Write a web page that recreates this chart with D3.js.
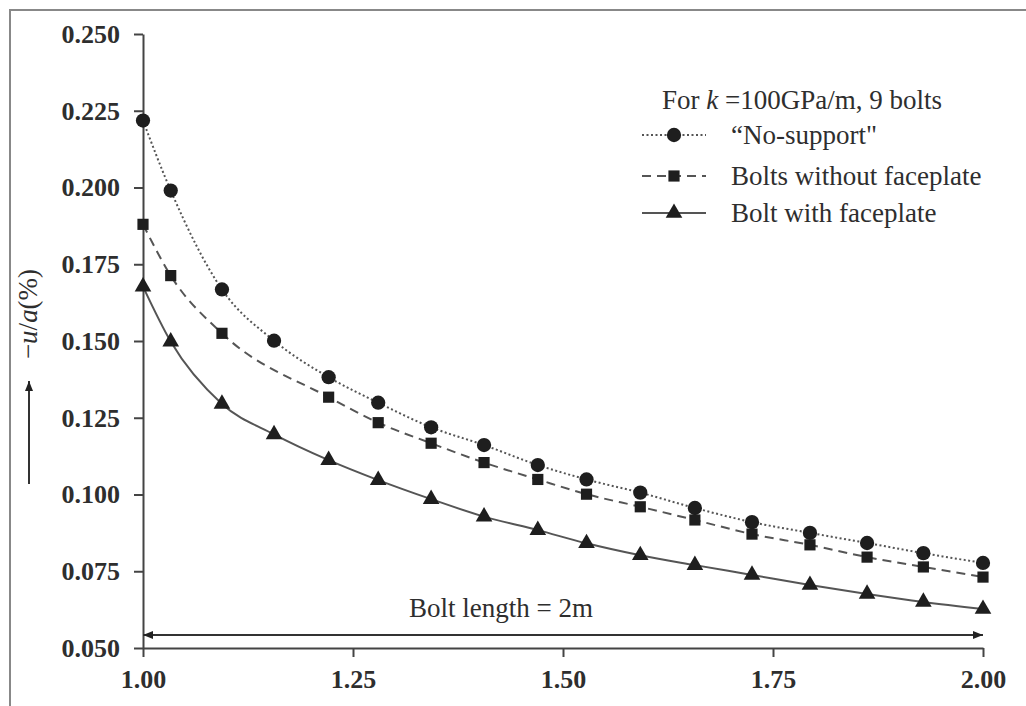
<!DOCTYPE html>
<html>
<head>
<meta charset="utf-8">
<script src="https://cdn.jsdelivr.net/npm/d3@7"></script>
<style>
  body { margin: 0; background: #fff; }
  svg { display: block; }
  text { font-family: "Liberation Serif", "Times New Roman", serif; fill: #2e2e2e; }
</style>
</head>
<body>
<svg id="chart" width="1026" height="706"></svg>
<script>
// bolt length ratio (x) and -u/a (%)
const xVals = [1.000, 1.033, 1.094, 1.156, 1.221, 1.280, 1.343, 1.406, 1.470, 1.528, 1.592, 1.657, 1.725, 1.794, 1.862, 1.929, 2.000];
const noSupport = [0.2218, 0.1990, 0.1668, 0.1501, 0.1382, 0.1299, 0.1219, 0.1161, 0.1096, 0.1049, 0.1006, 0.0956, 0.0910, 0.0875, 0.0842, 0.0809, 0.0777];
const noFaceplate = [0.1880, 0.1713, 0.1525, null, 0.1317, 0.1234, 0.1167, 0.1104, 0.1049, 0.1001, 0.0960, 0.0917, 0.0871, 0.0836, 0.0796, 0.0764, 0.0731];
const withFaceplate = [0.1677, 0.1498, 0.1295, 0.1196, 0.1112, 0.1047, 0.0985, 0.0928, 0.0884, 0.0841, 0.0802, 0.0770, 0.0738, 0.0705, 0.0676, 0.0650, 0.0627];
const xTicks = [1.00, 1.25, 1.50, 1.75, 2.00];
const yTicks = [0.050, 0.075, 0.100, 0.125, 0.150, 0.175, 0.200, 0.225, 0.250];
const legendTitle = "100GPa/m, 9 bolts";
const seriesNames = ["\u201CNo-support\"", "Bolts without faceplate", "Bolt with faceplate"];

const svg = d3.select("#chart");
const margin = { left: 143, right: 43, top: 34, bottom: 58 };
const width = 1026, height = 706;

const xScale = d3.scaleLinear().domain([1, 2]).range([margin.left, width - margin.right]);
const yScale = d3.scaleLinear().domain([0.05, 0.25]).range([height - margin.bottom, margin.top]);

// picture frame (only top and left edges visible)
svg.append("path")
  .attr("d", `M10,${height} L10,10 L${width},10`)
  .attr("fill", "none").attr("stroke", "#888").attr("stroke-width", 2);

// axes
const xAxis = svg.append("g")
  .attr("transform", `translate(0,${yScale(0.05)})`)
  .call(d3.axisBottom(xScale).tickValues(xTicks).tickFormat(d3.format(".2f")).tickSize(9).tickSizeOuter(0).tickPadding(10));
const yAxis = svg.append("g")
  .attr("transform", `translate(${xScale(1)},0)`)
  .call(d3.axisLeft(yScale).tickValues(yTicks).tickFormat(d3.format(".3f")).tickSize(9).tickSizeOuter(0).tickPadding(14));

[xAxis, yAxis].forEach(g => {
  g.select(".domain").attr("stroke", "#444").attr("stroke-width", 2);
  g.selectAll(".tick line").attr("stroke", "#444").attr("stroke-width", 2);
  g.selectAll(".tick text")
    .style("font-family", "'Liberation Serif', serif")
    .style("font-size", "26px")
    .style("font-weight", "bold")
    .attr("fill", "#3a3a3a");
});
xAxis.selectAll(".tick text").attr("dy", "0.82em");

// y axis title, rotated, with upward arrow
const yLab = svg.append("text")
  .attr("transform", `translate(37,314) rotate(-90)`)
  .attr("text-anchor", "middle")
  .style("font-size", "27px");
yLab.append("tspan").text("\u2212");
yLab.append("tspan").style("font-style", "italic").text("u");
yLab.append("tspan").text("/");
yLab.append("tspan").style("font-style", "italic").text("a");
yLab.append("tspan").text("(%)");

const defs = svg.append("defs");
defs.append("marker").attr("id", "ah").attr("viewBox", "0 0 10 10")
  .attr("refX", 10).attr("refY", 5).attr("markerWidth", 10).attr("markerHeight", 10)
  .attr("markerUnits", "userSpaceOnUse").attr("orient", "auto-start-reverse")
  .append("path").attr("d", "M0,1 L10,5 L0,9 Z").attr("fill", "#222");

svg.append("line")
  .attr("x1", 29).attr("x2", 29).attr("y1", 484).attr("y2", 381)
  .attr("stroke", "#333").attr("stroke-width", 2)
  .attr("marker-end", "url(#ah)");

// bolt length annotation
const arrowY = yScale(0.05) - 13;
svg.append("line")
  .attr("x1", xScale(1)).attr("x2", xScale(2))
  .attr("y1", arrowY).attr("y2", arrowY)
  .attr("stroke", "#333").attr("stroke-width", 2)
  .attr("marker-start", "url(#ah)").attr("marker-end", "url(#ah)");
svg.append("text")
  .attr("x", 501).attr("y", 617)
  .attr("text-anchor", "middle")
  .style("font-size", "27px")
  .text("Bolt length = 2m");

// series
const series = [
  { name: seriesNames[0], values: noSupport, dash: "2,2.5", symbol: d3.symbolCircle, size: 160 },
  { name: seriesNames[1], values: noFaceplate, dash: "9,6", symbol: d3.symbolSquare, size: 125 },
  { name: seriesNames[2], values: withFaceplate, dash: null, symbol: d3.symbolTriangle, size: 120 }
];

const line = d3.line()
  .x(d => xScale(d.x))
  .y(d => yScale(d.y))
  .curve(d3.curveMonotoneX);

series.forEach(s => {
  const pts = xVals.map((x, i) => ({ x: x, y: s.values[i] })).filter(d => d.y != null);
  svg.append("path")
    .datum(pts)
    .attr("d", line)
    .attr("fill", "none")
    .attr("stroke", "#555")
    .attr("stroke-width", 2)
    .attr("stroke-dasharray", s.dash);
  svg.append("g").selectAll("path")
    .data(pts)
    .join("path")
    .attr("transform", d => `translate(${xScale(d.x)},${yScale(d.y)})`)
    .attr("d", d3.symbol().type(s.symbol).size(s.size))
    .attr("fill", "#1e1e1e");
});

// legend
const legend = svg.append("g");
const lt = legend.append("text").attr("x", 662).attr("y", 109).style("font-size", "27px");
lt.append("tspan").text("For ");
lt.append("tspan").style("font-style", "italic").text("k");
lt.append("tspan").text(" =" + legendTitle);

const rowY = [135, 176, 213];
series.forEach((s, i) => {
  legend.append("line")
    .attr("x1", 642).attr("x2", 706)
    .attr("y1", rowY[i]).attr("y2", rowY[i])
    .attr("stroke", "#555").attr("stroke-width", 2)
    .attr("stroke-dasharray", s.dash);
  legend.append("path")
    .attr("transform", `translate(674,${rowY[i]})`)
    .attr("d", d3.symbol().type(s.symbol).size(s.size))
    .attr("fill", "#1e1e1e");
  legend.append("text")
    .attr("x", 731).attr("y", rowY[i] + 9)
    .style("font-size", "27px")
    .text(s.name);
});
</script>
</body>
</html>
